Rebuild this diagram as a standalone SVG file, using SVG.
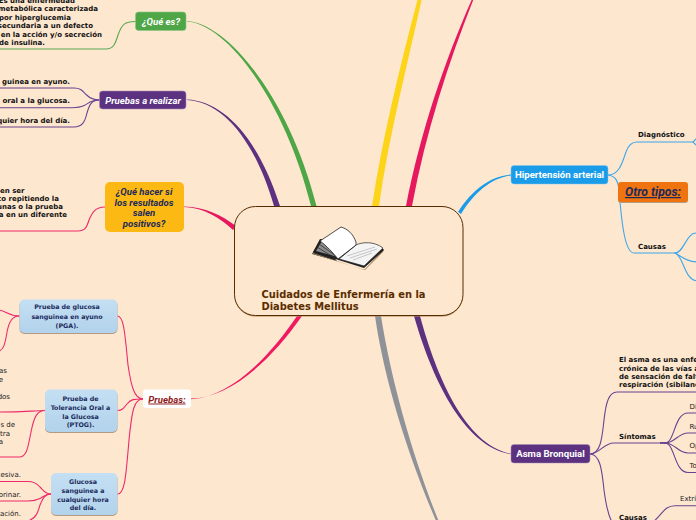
<svg xmlns="http://www.w3.org/2000/svg" width="696" height="520" viewBox="0 0 696 520">
<style>
.t{font-family:"DejaVu Sans",Verdana,sans-serif}
.b{font-family:"DejaVu Sans",Verdana,sans-serif;font-weight:700;font-size:7px;fill:#111}
.r{font-family:"DejaVu Sans",Verdana,sans-serif;font-size:7px;fill:#222}
.e{text-anchor:end}
.m{text-anchor:middle}
.n{font-family:Roboto,"Liberation Sans",Arial,sans-serif;font-weight:700;font-size:9.600px;fill:#fff}
.i{font-style:italic}
.bx{font-family:"DejaVu Sans",Verdana,sans-serif;font-weight:700;font-size:6.300px;fill:#1b2a5c;text-anchor:middle}
.l{fill:none;stroke-width:1.100;stroke-linecap:round}
.gr{stroke:#5aa852}.pu{stroke:#6a4390}.pk{stroke:#ef2a6b}.bl{stroke:#3ea6ea}
.sh{fill:#b39a80}
</style>
<defs>
<linearGradient id="blue" x1="0" y1="0" x2="0" y2="1"><stop offset="0" stop-color="#c4dff3"/><stop offset="1" stop-color="#b2d3ec"/></linearGradient>
</defs>
<rect width="696" height="520" fill="#fde7cf"/>
<g id="connectors">
<path fill="#4ea646" d="M187,21.600 C226,24 284,98 311,206 L316.500,206 C289,97 227,23 187,21 Z"/>
<path fill="#5b3180" d="M187,100 C222,102 254,138 274,206 L280,206 C258,137 223,101 187,99.600 Z"/>
<path fill="#fdd41a" d="M418,-2 C400,66 383,135 372,206 L379,206 C389,135 407,67 422,-2 Z"/>
<path fill="#e6195f" d="M472.500,-2 C445,60 421,130 406,206 L412,206 C426,131 449,61 474,-2 Z"/>
<path fill="#1b9ce8" d="M511,174.600 C490,176 472,190 458,212 L461,214 C474,193 491,178 511,175.400 Z"/>
<path fill="#8f9298" d="M375,316 C385,385 410,460 436.500,522 L439,522 C414,460 392,385 381,316 Z"/>
<path fill="#5b3180" d="M414,316 C431,375 462,446 511,454.300 L511,453.800 C465,445 436,375 420,316 Z"/>
<path fill="#e6195f" d="M184,207 C205,208 220,218 233,230 L236,226 C222,215 205,207 184,206.400 Z"/>
<path fill="#ef1a60" d="M191,399.200 C228,397 266,362 297,316 L302,316 C269,363 229,398 191,398.500 Z"/>
<path class="l gr" d="M135,21.500 C125,21.500 122,24 118,35 C115,45 113,49 106,49 L-2,49"/>
<g class="l pu">
<path d="M99,100 C90,100 88,96 85,93.500 C82,90 80,88 74,88 L-2,88"/>
<path d="M99,100 C90,100 88,104 84,105.500 C81,107 78,107.700 72,107.700 L-2,107.700"/>
<path d="M99,100 C91,100 89,106 87,113 C85,122 82,127 74,127 L-2,127"/>
</g>
<path class="l pk" d="M105,207 C95,207 92,213 89,220 C87,227 85,231 78,231 L-2,231"/>
<g class="l pk">
<path d="M143,399 C134,399 131,385 128,365 C125,335 124,316 117.500,316"/>
<path d="M143,399 C134,399 131,399 127,404 C124,408 122,410.500 117.500,410.500"/>
<path d="M143,399 C134,399 132,410 129,440 C126,475 125,494 117.500,494"/>
<path d="M19.500,316 C13,316 9,314 6,312.500 C3,311 1,310 -2,310"/>
<path d="M19.500,316 C12,316 9,322 7,332 C5,345 3,351 -2,351"/>
<path d="M45,410.500 C30,411 20,412 -2,412"/>
<path d="M45,410.500 C37,410.500 34,417 31,432 C28,447 27,457 19,457 L-2,457"/>
<path d="M51,494 C45,494 43,490 40,487 C37,483.500 34,481.500 28,481.500 L-2,481.500"/>
<path d="M51,494 C45,494 43,497 40,498.500 C36,500.500 33,501 28,501 L-2,501"/>
<path d="M51,494 C45,494 43,498 40,505 C38,512 36,518 30,520"/>
</g>
<g class="l bl">
<path d="M608,175 C620,175 623,160 626,152 C628,146 631,142 637,142 L693,142"/>
<path d="M608,175 C615,176 618,180 619,190 C621,215 624,253 634,253 L675,253"/>
<path d="M693,142 L697,138 M693,142 L697,146"/>
<path d="M675,253 C684,253 686,233 696,233 L698,233"/>
<path d="M675,253 C681,256 686,262 698,262"/>
<path d="M675,253 C684,256 684,281 698,281"/>
</g>
<g class="l pu">
<path d="M590,454 C600,454 602,440 604,420 C606,402 609,392 617,392 L698,392"/>
<path d="M590,454 C600,454 603,443 614,443 L665,443"/>
<path d="M590,454 C600,454 602,470 604,490 C606,505 608,515 612,522"/>
<path d="M665,443 C675,443 674,413 688,413 L698,413"/>
<path d="M665,443 C675,443 678,433 688,433 L698,433"/>
<path d="M665,443 C675,443 678,453 688,453 L698,453"/>
<path d="M665,443 C675,443 674,472.500 688,472.500 L698,472.500"/>
<path d="M653,522 C662,515 664,505.700 675,505.700 L698,505.700"/>
</g>
<rect x="660" y="442" width="6" height="1.800" fill="#6a4390"/>
</g>
<g id="central">
<rect x="234.500" y="207.500" width="228.500" height="109" rx="21" fill="#b08a63"/>
<rect x="234.500" y="206.500" width="228.500" height="109" rx="21" fill="#fde7cf" stroke="#5a2d00" stroke-width="1"/>
<path d="M312,254 L320,241 L337,261 L312,254Z" fill="#2b2b2b"/>
<path d="M313,253 L364,270 L384,249 L383,252 L365,270 L313,254 Z" fill="#a9865c"/>
<path d="M313,252 L320,239 L356,245 L382,248 L384,250 L364,268 Z" fill="#1f1f1f"/>
<path d="M316,251 L322,241 L338,257 Z" fill="#8c8c8c"/>
<path d="M317,247 L335,258 M319,244 L336,256" stroke="#333" stroke-width=".8" fill="none"/>
<path d="M356,245 C362,242 374,241 383,248 L364,266 L339,259 Z" fill="#f4f4f4" stroke="#222" stroke-width=".7"/>
<path d="M347,256 L375,247 M350,258 L377,249 M353,260 L372,253" stroke="#c6c6c6" stroke-width="1" fill="none"/>
<path d="M320,241 L341,227 C348,229 353,234 356,242 L356,245 L338,259 C334,254 326,245 320,241 Z" fill="#fff" stroke="#222" stroke-width=".8"/>
<text class="t" x="261.500" y="298" font-size="9.900" font-weight="700" fill="#5a2d00">Cuidados de Enfermería en la</text>
<text class="t" x="261.500" y="310" font-size="9.900" font-weight="700" fill="#5a2d00">Diabetes Mellitus</text>
</g>
<g id="que-es">
<rect x="135.500" y="12" width="50.500" height="18.500" rx="3" fill="#4ea646" stroke="#8cc887" stroke-width=".6"/>
<text class="n i m" x="161" y="24.500">¿Qué es?</text>
<text class="b e" x="75" y="2.500">Es una enfermedad</text>
<text class="b e" x="98" y="11">metabólica caracterizada</text>
<text class="b e" x="71" y="19.500">por hiperglucemia</text>
<text class="b e" x="93" y="28">secundaria a un defecto</text>
<text class="b e" x="102" y="36.500">en la acción y/o secreción</text>
<text class="b e" x="45" y="45">de insulina.</text>
</g>
<g id="pruebas-realizar">
<rect x="99.500" y="91" width="86.500" height="18" rx="3" fill="#5b3180" stroke="#a48cbb" stroke-width=".6"/>
<text class="n i m" x="143" y="103.500">Pruebas a realizar</text>
<text class="b e" x="70" y="84">guinea en ayuno.</text>
<text class="b e" x="70" y="103">oral a la glucosa.</text>
<text class="b e" x="70" y="123">quier hora del día.</text>
</g>
<g id="que-hacer">
<rect x="105" y="182" width="79" height="50" rx="5" fill="#fdb913"/>
<text class="n i m" x="144" y="195" style="fill:#1b2a5c">¿Qué hacer si</text>
<text class="n i m" x="144" y="205.500" style="fill:#1b2a5c">los resultados</text>
<text class="n i m" x="144" y="215.500" style="fill:#1b2a5c">salen</text>
<text class="n i m" x="144" y="226.500" style="fill:#1b2a5c">positivos?</text>
<text class="b" x="0" y="193">en ser</text>
<text class="b e" x="59" y="201">co repitiendo la</text>
<text class="b e" x="63" y="209">unas o la prueba</text>
<text class="b e" x="67" y="217">a en un diferente</text>
</g>
<g id="pruebas">
<rect x="143" y="389.500" width="48" height="18.500" rx="3" fill="#fff"/>
<text class="n i m" x="167" y="402.500" style="fill:#8e1a1a;text-decoration:underline">Pruebas:</text>
</g>
<g id="pga">
<rect class="sh" x="19.500" y="300.500" width="98" height="33.500" rx="5"/>
<rect x="19.500" y="299.500" width="98" height="33.500" rx="5" fill="url(#blue)"/>
<text class="bx" x="67" y="309">Prueba de glucosa</text>
<text class="bx" x="67" y="319">sanguinea en ayuno</text>
<text class="bx" x="67" y="327.500">(PGA).</text>
</g>
<g id="ptog">
<rect class="sh" x="45" y="390.500" width="72.500" height="42.500" rx="5"/>
<rect x="45" y="389.500" width="72.500" height="42.500" rx="5" fill="url(#blue)"/>
<text class="bx" x="80.500" y="401">Prueba de</text>
<text class="bx" x="80.500" y="409.500">Tolerancia Oral a</text>
<text class="bx" x="80.500" y="418.500">la Glucosa</text>
<text class="bx" x="80.500" y="426.500">(PTOG).</text>
<text class="r e" x="7" y="373">as</text>
<text class="r e" x="3" y="382">e</text>
<text class="r e" x="10" y="399">dos</text>
<text class="r e" x="15" y="427">s de</text>
<text class="r e" x="10" y="436">tra</text>
<text class="r e" x="3" y="444">a</text>
</g>
<g id="glucosa">
<rect class="sh" x="51" y="474" width="66.500" height="42" rx="5"/>
<rect x="51" y="473" width="66.500" height="42" rx="5" fill="url(#blue)"/>
<text class="bx" x="83" y="484">Glucosa</text>
<text class="bx" x="83" y="493">sanguinea a</text>
<text class="bx" x="83" y="501.500">cualquier hora</text>
<text class="bx" x="83" y="510">del día.</text>
<text class="r e" x="21" y="477">cesiva.</text>
<text class="r e" x="21" y="497">orinar.</text>
<text class="r e" x="21" y="516">tación.</text>
</g>
<g id="hipertension">
<rect x="511" y="165.500" width="97" height="18.500" rx="3" fill="#1b9ce8" stroke="#7cc6f2" stroke-width=".5"/>
<text class="n m" x="559.500" y="178">Hipertensión arterial</text>
<text class="b" x="638" y="137">Diagnóstico</text>
<text class="b" x="638" y="249">Causas</text>
</g>
<g id="otro-tipos">
<rect x="618" y="183" width="70" height="20" rx="3" fill="#b39a80"/>
<rect x="618" y="182" width="70" height="20" rx="3" fill="#ef7410"/>
<text class="n i m" x="653" y="196" style="font-size:12.200px;fill:#1b2a5c;text-decoration:underline">Otro tipos:</text>
</g>
<g id="asma">
<rect x="511" y="444.500" width="79" height="18.500" rx="3" fill="#5b3180" stroke="#a48cbb" stroke-width=".5"/>
<text class="n m" x="550.500" y="457">Asma Bronquial</text>
<text class="b" x="619" y="362">El asma es una enfe</text>
<text class="b" x="619" y="370.500">crónica de las vías a</text>
<text class="b" x="619" y="379">de sensación de falt</text>
<text class="b" x="619" y="387">respiración (sibilanc</text>
<text class="b" x="619" y="439">Síntomas</text>
<text class="b" x="619" y="520">Causas</text>
<text class="r" x="689.500" y="409">Di</text>
<text class="r" x="689.500" y="429">Ru</text>
<text class="r" x="689.500" y="448">Op</text>
<text class="r" x="689.500" y="468">To</text>
<text class="r" x="680" y="501">Extrí</text>
</g>
</svg>
